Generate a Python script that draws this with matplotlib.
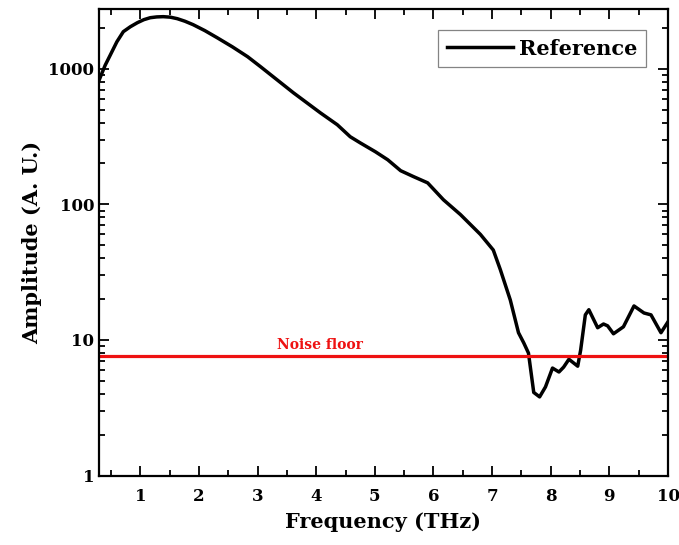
import matplotlib
matplotlib.use('Agg')
import matplotlib.pyplot as plt
from matplotlib.ticker import MultipleLocator, FixedLocator, LogLocator, NullFormatter

plt.rcParams['font.family'] = ['DejaVu Serif']
plt.rcParams['font.weight'] = 'bold'

# spectrum
freq = [0.30, 0.40, 0.49, 0.60, 0.71, 0.83, 0.95, 1.06, 1.17, 1.28, 1.39,
        1.51, 1.63, 1.76, 1.90, 2.10, 2.31, 2.57, 2.83, 3.05,
        3.61, 4.07, 4.36, 4.58, 4.75, 5.01, 5.22, 5.44, 5.66, 5.90, 6.17,
        6.46, 6.80, 7.02, 7.14, 7.31, 7.45, 7.54, 7.62, 7.71, 7.81, 7.91,
        8.03, 8.14, 8.22, 8.31, 8.46, 8.51, 8.59, 8.65, 8.80, 8.90, 8.97,
        9.07, 9.24, 9.42, 9.59, 9.71, 9.88, 10.0]
amp = [830, 1060, 1268, 1580, 1876, 2040, 2185, 2300, 2378, 2410, 2420,
       2400, 2339, 2240, 2113, 1910, 1693, 1450, 1226, 1035,
       665, 473, 386, 315, 284, 244, 213, 177, 160, 144, 108,
       84, 60, 46, 33, 19.7, 11.3, 9.5, 8.0, 4.1, 3.8, 4.5,
       6.2, 5.8, 6.3, 7.2, 6.4, 8.4, 15.3, 16.7, 12.3, 13.1, 12.7,
       11.1, 12.5, 17.8, 15.8, 15.3, 11.3, 13.6]
noise_floor = 7.6

fig = plt.figure(figsize=(6.79, 5.45), dpi=100)
ax = fig.add_axes([0.1458, 0.1275, 0.838, 0.8569])

ax.plot(freq, amp, color='black', lw=2.5, label='Reference')
ax.axhline(noise_floor, color='#ee1111', lw=2.3)
ax.text(4.07, noise_floor * 1.08, 'Noise floor', color='#ee1111',
        fontsize=10, fontweight='bold', ha='center', va='bottom')

ax.set_yscale('log')
ax.set_xlim(0.295, 10)
ax.set_ylim(1, 2780)

ax.xaxis.set_major_locator(FixedLocator([1, 2, 3, 4, 5, 6, 7, 8, 9, 10]))
ax.xaxis.set_minor_locator(MultipleLocator(0.5))
ax.yaxis.set_minor_locator(LogLocator(base=10, subs=range(2, 10), numticks=10))
ax.yaxis.set_minor_formatter(NullFormatter())
ax.set_yticks([1, 10, 100, 1000])
ax.set_yticklabels(['1', '10', '100', '1000'])

ax.tick_params(which='both', direction='in', top=True, right=True,
               width=1.3, labelsize=12)
ax.tick_params(which='major', length=7)
ax.tick_params(which='minor', length=4)
ax.tick_params(axis='x', pad=9)
for s in ax.spines.values():
    s.set_linewidth(1.6)

ax.set_xlabel('Frequency (THz)', fontsize=15, fontweight='bold', labelpad=5)
ax.set_ylabel('Amplitude (A. U.)', fontsize=15, fontweight='bold', labelpad=4)

leg = ax.legend(loc='upper right', fontsize=15, frameon=True, fancybox=False,
                handlelength=3.2, borderaxespad=1.05, handletextpad=0.3,
                borderpad=0.4)
leg.get_frame().set_edgecolor('#666666')
leg.get_frame().set_linewidth(0.9)

plt.savefig('out.png', dpi=100)
